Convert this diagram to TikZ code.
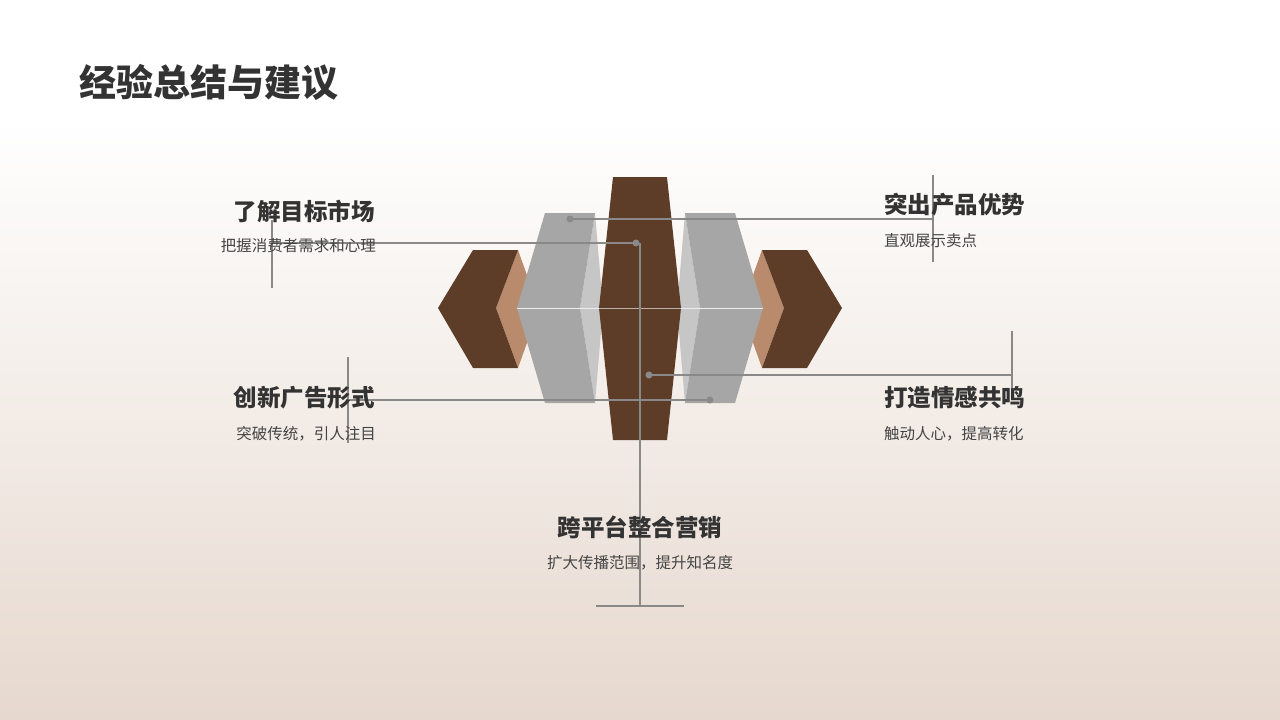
\documentclass[tikz,border=0pt]{standalone}
\usepackage{fontspec}
\setmainfont{Noto Sans CJK SC}
\begin{document}
\begin{tikzpicture}[x=1pt,y=-1pt,
  ln/.style={draw=lineC,line width=1.6pt},
  dotc/.style={circle,fill=lineC,inner sep=0pt,minimum size=7pt},
  hd/.style={font=\bfseries\fontsize{23.5}{26}\selectfont,text=txt,inner sep=0pt},
  sb/.style={font=\fontsize{15.5}{18}\selectfont,text=txt2,inner sep=0pt}]
\definecolor{brownA}{HTML}{5E3D28}
\definecolor{tanA}{HTML}{B98A6B}
\definecolor{grayA}{HTML}{A6A6A6}
\definecolor{grayB}{HTML}{C6C6C6}
\definecolor{lineC}{HTML}{898989}
\definecolor{txt}{HTML}{333333}
\definecolor{txt2}{HTML}{444444}
\definecolor{bgB}{HTML}{E6D8CE}
\useasboundingbox (0,0) rectangle (1280,720);
\fill[white] (0,0) rectangle (1280,120);
\shade[top color=white,bottom color=bgB] (0,120) rectangle (1280,720);
% side brown blocks
\fill[tanA] (518,250) -- (528,278) -- (528,340) -- (518,368) -- (496,308) -- cycle;
\fill[brownA] (438,308) -- (473,250) -- (518,250) -- (496,308) -- (518,368) -- (473,368) -- cycle;
\fill[tanA] (762,250) -- (752,278) -- (752,340) -- (762,368) -- (784,308) -- cycle;
\fill[brownA] (842,308) -- (807,250) -- (762,250) -- (784,308) -- (762,368) -- (807,368) -- cycle;
% gray blocks
\fill[grayB] (595,213) -- (603,308) -- (595,403) -- (580,308) -- cycle;
\fill[grayA] (517,308) -- (545,213) -- (595,213) -- (580,308) -- (595,403) -- (545,403) -- cycle;
\fill[grayB] (685,213) -- (677,308) -- (685,403) -- (700,308) -- cycle;
\fill[grayA] (763,308) -- (735,213) -- (685,213) -- (700,308) -- (685,403) -- (735,403) -- cycle;
\draw[white!80!grayA,line width=0.6pt] (517,308) -- (603,308) (677,308) -- (763,308);
% center
\fill[brownA] (613,177) -- (667,177) -- (681,308) -- (667,440) -- (613,440) -- (599,308) -- cycle;
\draw[white!60!brownA,line width=0.6pt] (599,308) -- (681,308);
% connectors
\coordinate (d1) at (570,219);
\coordinate (d2) at (636,243);
\coordinate (d3) at (649,375);
\coordinate (d4) at (710,400);
\coordinate (e1) at (933,219);
\coordinate (e2) at (272,243);
\coordinate (e3) at (1012,375);
\coordinate (e4) at (348,400);
\coordinate (e5) at (640,606);
\coordinate (b5) at (640,243);
\draw[ln] (d1) -- (e1) (933,175) -- (933,262);
\draw[ln] (d2) -- (e2) (272,220) -- (272,288);
\draw[ln] (d3) -- (e3) (1012,331) -- (1012,390);
\draw[ln] (d4) -- (e4) (348,357) -- (348,443);
\draw[ln] (b5) -- (e5) (596,606) -- (684,606);
\node[dotc] (n1) at (d1) {};
\node[dotc] (n2) at (d2) {};
\node[dotc] (n3) at (d3) {};
\node[dotc] (n4) at (d4) {};
% texts
\node[hd,anchor=east] (t1) at (375,211) {了解目标市场};
\node[sb,anchor=east] (s1) at (376,246) {把握消费者需求和心理};
\node[hd,anchor=east] (t2) at (375,398) {创新广告形式};
\node[sb,anchor=east] (s2) at (376,434) {突破传统，引人注目};
\node[hd,anchor=west] (t3) at (884,205) {突出产品优势};
\node[sb,anchor=west] (s3) at (884,241) {直观展示卖点};
\node[hd,anchor=west] (t4) at (884,398) {打造情感共鸣};
\node[sb,anchor=west] (s4) at (884,434) {触动人心，提高转化};
\node[hd] (t5) at (640,527) {跨平台整合营销};
\node[sb] (s5) at (640,563) {扩大传播范围，提升知名度};
\node[hd,font=\bfseries\fontsize{37}{42}\selectfont,anchor=west] (ti) at (79,82) {经验总结与建议};
\end{tikzpicture}
\end{document}
